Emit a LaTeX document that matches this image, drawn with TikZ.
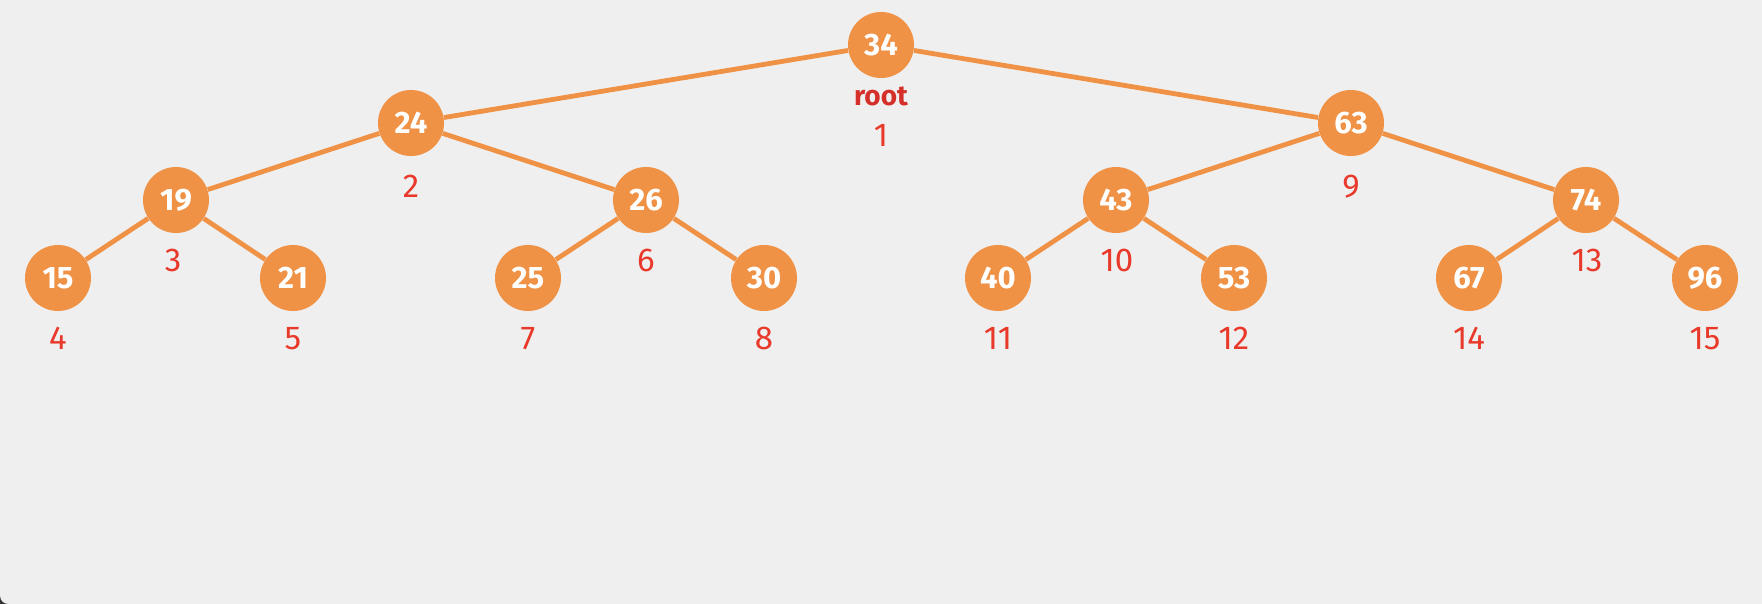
\documentclass[tikz,border=0pt]{standalone}
\usepackage{fontspec}
\setmainfont{Fira Sans}
\definecolor{bgc}{HTML}{EFEFEF}
\definecolor{heapor}{HTML}{EF9246}
\definecolor{idxred}{HTML}{E8392A}
\definecolor{rootred}{HTML}{D52F2A}
\tikzset{
  heapnode/.style={circle, fill=heapor, minimum size=33pt, inner sep=0pt,
    text=white, font=\fontsize{15.5}{16}\selectfont\bfseries},
  heapedge/.style={draw=heapor, line width=2.4pt},
  idx/.style={anchor=base, text=idxred, inner sep=0pt,
    font=\fontsize{16.5}{16}\selectfont},
  rootlbl/.style={anchor=base, text=rootred, inner sep=0pt,
    font=\fontsize{14}{14}\selectfont\bfseries},
}
\begin{document}
\begin{tikzpicture}[x=0.5pt, y=-0.5pt]
  % canvas
  \fill[bgc] (0,0) rectangle (1762,604);
  \useasboundingbox (0,0) rectangle (1762,604);
  \fill[black!80] (0,604) -- (0,596) arc[start angle=180, end angle=270, radius=4pt] -- cycle;

  % heap nodes
  \node[heapnode] (n1) at (881,45) {34};
  \node[heapnode] (n2) at (411,123) {24};
  \node[heapnode] (n9) at (1351,123) {63};
  \node[heapnode] (n3) at (176,200) {19};
  \node[heapnode] (n6) at (646,200) {26};
  \node[heapnode] (n10) at (1116,200) {43};
  \node[heapnode] (n13) at (1586,200) {74};
  \node[heapnode] (n4) at (58,278) {15};
  \node[heapnode] (n5) at (293,278) {21};
  \node[heapnode] (n7) at (528,278) {25};
  \node[heapnode] (n8) at (764,278) {30};
  \node[heapnode] (n11) at (998,278) {40};
  \node[heapnode] (n12) at (1234,278) {53};
  \node[heapnode] (n14) at (1469,278) {67};
  \node[heapnode] (n15) at (1705,278) {96};

  % tree edges
  \foreach \p/\c in {n1/n2, n1/n9, n2/n3, n2/n6, n9/n10, n9/n13,
                     n3/n4, n3/n5, n6/n7, n6/n8, n10/n11, n10/n12,
                     n13/n14, n13/n15}
    \draw[heapedge] (\p) -- (\c);

  % labels
  \node[rootlbl] (lroot) at (881,106) {root};
  \node[idx] (l1) at (881,147) {1};
  \node[idx] (l2) at (411,198) {2};
  \node[idx] (l9) at (1351,198) {9};
  \node[idx] (l3) at (173,271) {3};
  \node[idx] (l6) at (646,271) {6};
  \node[idx] (l10) at (1117,271) {10};
  \node[idx] (l13) at (1587,271) {13};
  \node[idx] (l4) at (58,350) {4};
  \node[idx] (l5) at (293,350) {5};
  \node[idx] (l7) at (528,350) {7};
  \node[idx] (l8) at (764,350) {8};
  \node[idx] (l11) at (998,350) {11};
  \node[idx] (l12) at (1234,350) {12};
  \node[idx] (l14) at (1469,350) {14};
  \node[idx] (l15) at (1705,350) {15};
\end{tikzpicture}
\end{document}
